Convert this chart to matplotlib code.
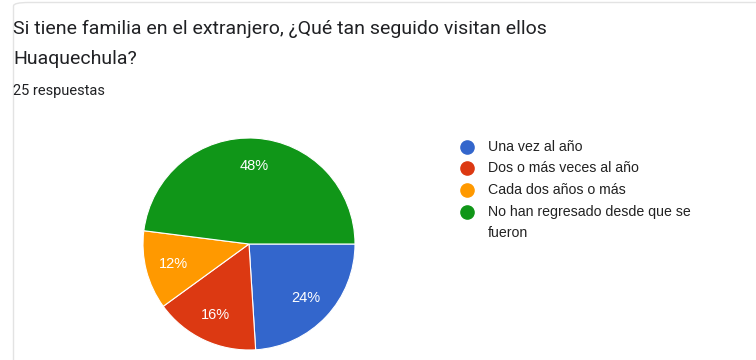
import matplotlib
matplotlib.use("Agg")
import matplotlib.pyplot as plt
from matplotlib.patches import FancyBboxPatch
from matplotlib.lines import Line2D

categories = ["Una vez al año", "Dos o más veces al año", "Cada dos años o más",
              "No han regresado desde que se\nfueron"]
values = [24, 16, 12, 48]
colors = ["#3366cc", "#dc3912", "#ff9900", "#109618"]
title_lines = ["Si tiene familia en el extranjero, ¿Qué tan seguido visitan ellos", "Huaquechula?"]
subtitle = "25 respuestas"

plt.rcParams['font.family'] = ['Roboto', 'DejaVu Sans']
chart_font = ['Liberation Sans', 'DejaVu Sans']

W, H = 756, 360
fig = plt.figure(figsize=(W / 100, H / 100), dpi=100)
fig.patch.set_facecolor("white")

def fx(px):
    return px / W

def fy(py):
    return 1 - py / H

# card border
card = FancyBboxPatch((fx(13.5), fy(420)), fx(800), (420 - 2.5) / H,
                      boxstyle="round,pad=0,rounding_size=0.02",
                      transform=fig.transFigure, facecolor="none",
                      edgecolor="#e3e3e3", linewidth=1.0, mutation_aspect=H / W)
fig.patches.append(card)

# title
fig.text(fx(13), fy(34), title_lines[0], fontsize=14, color="#202124", va="baseline", ha="left")
fig.text(fx(13), fy(64), title_lines[1], fontsize=14, color="#202124", va="baseline", ha="left")
fig.text(fx(13), fy(95), subtitle, fontsize=10.5, color="#202124", va="baseline", ha="left")

# pie
cx, cy, r = 249, 244, 106
ax = fig.add_axes([fx(cx - r), fy(cy + r), 2 * r / W, 2 * r / H])
wedges, texts, autotexts = ax.pie(values, colors=colors, startangle=0, counterclock=False,
                                  autopct=lambda p: f"{p:.0f}%", pctdistance=0.74,
                                  wedgeprops=dict(edgecolor="white", linewidth=0.8),
                                  textprops=dict(color="white", fontsize=10.5,
                                                 family=chart_font))
ax.set_xlim(-1, 1)
ax.set_ylim(-1, 1)
ax.set_aspect("equal")
ax.axis("off")

# legend
legend_y = [147, 168, 190, 212]
for lab, col, ly in zip(categories, colors, legend_y):
    fig.add_artist(Line2D([fx(467)], [fy(ly)], marker="o", markersize=9.5,
                          color=col, transform=fig.transFigure, linestyle="none"))
    for i, line in enumerate(lab.split("\n")):
        fig.text(fx(488), fy(ly + 21 * i), line, fontsize=10.2, color="#222222",
                 va="center", ha="left", family=chart_font)

fig.savefig("out.png", dpi=100, facecolor="white")
